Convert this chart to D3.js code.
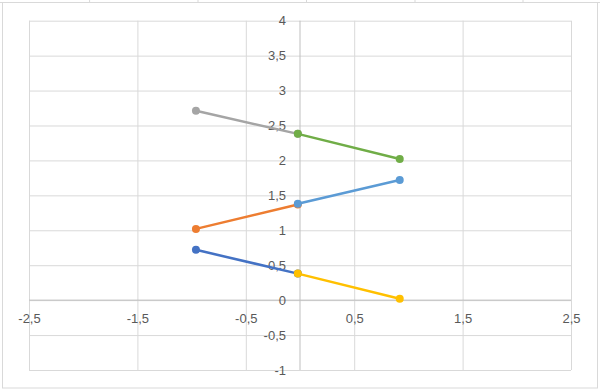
<!DOCTYPE html>
<html>
<head>
<meta charset="utf-8">
<script src="https://cdn.jsdelivr.net/npm/d3@7"></script>
<style>
  html, body { margin: 0; padding: 0; background: #ffffff; }
  svg { display: block; }
  text { font-family: "Liberation Sans", Arial, sans-serif; }
</style>
</head>
<body>
<svg id="chart" width="600" height="390"></svg>
<script>
// ---- data ----
const xTickValues = [-2.5, -1.5, -0.5, 0.5, 1.5, 2.5];
const yTickValues = [-1, -0.5, 0, 0.5, 1, 1.5, 2, 2.5, 3, 3.5, 4];
const seriesNames = ["Serie2", "Serie3", "Serie5", "Serie1", "Serie4", "Serie6"];
const seriesColors = ["#ED7D31", "#A5A5A5", "#4472C4", "#5B9BD5", "#FFC000", "#70AD47"];
const serie1X = [-0.02, 0.92], serie1Y = [1.38, 1.72];
const serie2X = [-0.96, -0.02], serie2Y = [1.02, 1.37];
const serie3X = [-0.96, -0.02], serie3Y = [2.71, 2.38];
const serie4X = [-0.02, 0.92], serie4Y = [0.38, 0.02];
const serie5X = [-0.96, -0.02], serie5Y = [0.72, 0.38];
const serie6X = [-0.02, 0.92], serie6Y = [2.38, 2.02];
const seriesXs = [serie2X, serie3X, serie5X, serie1X, serie4X, serie6X];
const seriesYs = [serie2Y, serie3Y, serie5Y, serie1Y, serie4Y, serie6Y];

const fmt = v => String(v).replace(".", ",");

const svg = d3.select("#chart");
const W = 600, H = 390;
const plotL = 29, plotR = 571, plotT = 20.7, plotB = 370;

svg.append("rect").attr("width", W).attr("height", H).attr("fill", "#ffffff");

// outer frame decoration
const frame = svg.append("g").attr("stroke", "#d9d9d9").attr("fill", "none");
frame.append("line").attr("x1", 0).attr("x2", W).attr("y1", 2.5).attr("y2", 2.5);
frame.append("rect").attr("x", 2.5).attr("y", 2.5).attr("width", W - 5).attr("height", H - 4.5);
[89.6, 198, 306.5, 415, 523].forEach(px => {
  frame.append("line").attr("x1", px).attr("x2", px).attr("y1", 0).attr("y2", 2.5);
});

const x = d3.scaleLinear().domain([-2.5, 2.5]).range([plotL, plotR]);
const y = d3.scaleLinear().domain([-1, 4]).range([plotB, plotT]);

// gridlines
const gx = svg.append("g")
  .attr("transform", `translate(0,${plotB})`)
  .call(d3.axisBottom(x).tickValues(xTickValues).tickSize(-(plotB - plotT)).tickFormat(""));
gx.select(".domain").remove();
gx.selectAll("line").attr("stroke", "#d9d9d9").attr("stroke-width", 1);

const gy = svg.append("g")
  .attr("transform", `translate(${plotL},0)`)
  .call(d3.axisLeft(y).tickValues(yTickValues).tickSize(-(plotR - plotL)).tickFormat(""));
gy.select(".domain").remove();
gy.selectAll("line").attr("stroke", "#d9d9d9").attr("stroke-width", 1);

// axes lines (crossing at 0)
svg.append("line").attr("x1", x(0)).attr("x2", x(0)).attr("y1", plotT).attr("y2", plotB)
  .attr("stroke", "#bfbfbf").attr("stroke-width", 1);
svg.append("line").attr("x1", plotL).attr("x2", plotR).attr("y1", y(0)).attr("y2", y(0))
  .attr("stroke", "#bfbfbf").attr("stroke-width", 1);

// tick labels
const ay = svg.append("g")
  .attr("transform", `translate(${x(0)},0)`)
  .call(d3.axisLeft(y).tickValues(yTickValues).tickSize(0).tickPadding(14).tickFormat(fmt));
ay.select(".domain").remove();
ay.selectAll("text").attr("fill", "#595959").style("font-size", "13px")
  .style("font-family", "'Liberation Sans', Arial, sans-serif");

const ax = svg.append("g")
  .attr("transform", `translate(0,${y(0)})`)
  .call(d3.axisBottom(x).tickValues(xTickValues).tickSize(0).tickPadding(14).tickFormat(fmt));
ax.select(".domain").remove();
ax.selectAll("text").attr("fill", "#595959").style("font-size", "13px")
  .style("font-family", "'Liberation Sans', Arial, sans-serif");

// series
const line = d3.line().x(d => x(d[0])).y(d => y(d[1]));
seriesNames.forEach((name, i) => {
  const pts = seriesXs[i].map((xv, j) => [xv, seriesYs[i][j]]);
  const g = svg.append("g").attr("class", "series " + name);
  g.append("path").datum(pts).attr("d", line)
    .attr("fill", "none").attr("stroke", seriesColors[i]).attr("stroke-width", 2.5)
    .attr("stroke-linecap", "round");
  g.selectAll("circle").data(pts).join("circle")
    .attr("cx", d => x(d[0])).attr("cy", d => y(d[1])).attr("r", 4)
    .attr("fill", seriesColors[i]);
});
</script>
</body>
</html>
